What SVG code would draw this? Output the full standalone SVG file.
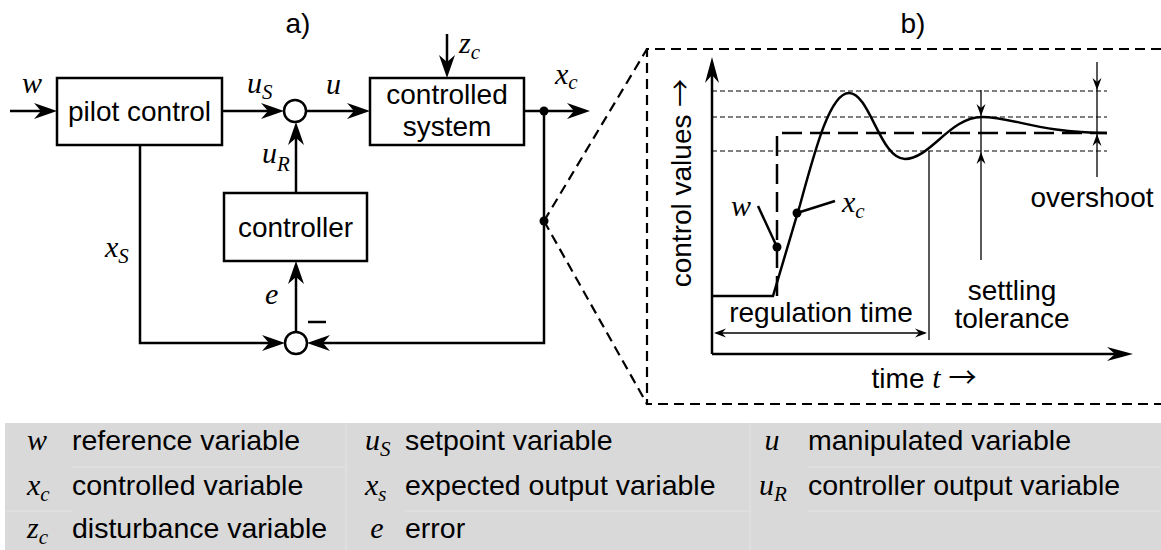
<svg xmlns="http://www.w3.org/2000/svg" width="1161" height="550" viewBox="0 0 1161 550">
<style>
.t{font-family:"Liberation Sans",Arial,sans-serif;font-size:28px;fill:#000}
.tb{font-family:"Liberation Sans",Arial,sans-serif;font-size:28.5px;fill:#000}
.m{font-family:"Liberation Serif","Times New Roman",serif;font-style:italic;font-size:30px;fill:#000}
.s{font-size:21px}
.ar{font-family:"Noto Sans CJK SC","DejaVu Sans",sans-serif;font-style:normal}
.box{fill:#fff;stroke:#000;stroke-width:2.5}
.ln{fill:none;stroke:#000;stroke-width:2.5}
.thin{fill:none;stroke:#000;stroke-width:1.3}
.dot{fill:#000}
.dsh{fill:none;stroke:#000;stroke-width:2.2;stroke-dasharray:10 6}
.tol{fill:none;stroke:#000;stroke-width:1;stroke-dasharray:5 3}
.wset{fill:none;stroke:#000;stroke-width:2.5;stroke-dasharray:20 8}
.cell{fill:none;stroke:#e3e3e3;stroke-width:1.2}
</style>
<defs>
<marker id="ah" markerUnits="userSpaceOnUse" viewBox="0 -9 24 18" refX="15" refY="0" markerWidth="24" markerHeight="18" orient="auto"><path d="M0,-8 L23,0 L0,8 L7,0 z" fill="#000"/></marker>
<marker id="ax" markerUnits="userSpaceOnUse" viewBox="0 -8 27 16" refX="18" refY="0" markerWidth="27" markerHeight="16" orient="auto"><path d="M0,-7 L26,0 L0,7 L8,0 z" fill="#000"/></marker>
<marker id="sa" markerUnits="userSpaceOnUse" viewBox="0 -5 13 10" refX="10" refY="0" markerWidth="13" markerHeight="10" orient="auto-start-reverse"><path d="M0,-4.5 L12,0 L0,4.5 L4,0 z" fill="#000"/></marker>
</defs>

<!-- a) block diagram -->
<text class="t" x="298" y="33" text-anchor="middle">a)</text>

<g id="pilot">
<rect class="box" x="57" y="78" width="165" height="67"/>
<text class="t" x="139.5" y="121" text-anchor="middle">pilot control</text>
</g>
<g id="sum1"><circle class="box" cx="295" cy="111" r="11"/></g>
<g id="system">
<rect class="box" x="370" y="78" width="154" height="67"/>
<text class="t" x="447" y="104" text-anchor="middle">controlled</text>
<text class="t" x="447" y="136" text-anchor="middle">system</text>
</g>
<g id="controller">
<rect class="box" x="224" y="193" width="143" height="68"/>
<text class="t" x="295.5" y="237" text-anchor="middle">controller</text>
</g>
<g id="sum2"><circle class="box" cx="296" cy="343" r="11"/></g>

<g id="connectors">
<path class="ln" d="M10,111 H49" marker-end="url(#ah)"/>
<path class="ln" d="M222,111 H276" marker-end="url(#ah)"/>
<path class="ln" d="M306,111 H362" marker-end="url(#ah)"/>
<path class="ln" d="M447,34 V70" marker-end="url(#ah)"/>
<path class="ln" d="M524,111 H582" marker-end="url(#ah)"/>
<path class="ln" d="M544,111 V343 H315" marker-end="url(#ah)"/>
<path class="ln" d="M140,145 V343 H277" marker-end="url(#ah)"/>
<path class="ln" d="M296,332 V269" marker-end="url(#ah)"/>
<path class="ln" d="M296,193 V130" marker-end="url(#ah)"/>
<circle class="dot" cx="544" cy="111" r="4.5"/>
<circle class="dot" cx="544" cy="221" r="4.5"/>
<path class="dsh" d="M544,221 L647,49 M544,221 L647,404"/>
</g>

<g id="labels-a">
<text class="m" x="22" y="93">w</text>
<text class="m" x="247" y="93">u<tspan class="s" dy="6">S</tspan></text>
<text class="m" x="326" y="94">u</text>
<text class="m" x="262" y="163">u<tspan class="s" dy="8">R</tspan></text>
<text class="m" x="459" y="53">z<tspan class="s" dy="6">c</tspan></text>
<text class="m" x="555" y="84">x<tspan class="s" dy="5">c</tspan></text>
<text class="m" x="105" y="257">x<tspan class="s" dy="6">S</tspan></text>
<text class="m" x="265" y="304">e</text>
<path class="ln" d="M308,322 H326" stroke-width="2"/>
</g>

<!-- b) chart -->
<text class="t" x="913" y="33" text-anchor="middle">b)</text>
<g id="chart">
<path class="dsh" stroke-width="2.5" d="M1161,49 H647 V404 H1161"/>
<path class="tol" d="M712,91 H1107 M712,117 H1107 M712,151 H1107"/>
<path class="ln" d="M712,354 V65" marker-end="url(#ax)"/>
<path class="ln" d="M712,354 H1125" marker-end="url(#ax)"/>
<path class="wset" d="M777,296 V133 H1107"/>
<path class="ln" d="M712,296 H773 L800,205 C815,150 830,93 849,93 C870,93 880,159 905,159 C930,159 950,117 982,117 C1012,117 1040,133 1107,133"/>
<path class="thin" d="M929,151 V340"/>
<path class="thin" d="M716,333 H925" marker-start="url(#sa)" marker-end="url(#sa)"/>
<path class="thin" d="M981,90 V114" marker-end="url(#sa)"/>
<path class="thin" d="M981,260 V154" marker-end="url(#sa)"/>
<path class="thin" d="M981,114 V154"/>
<path class="thin" d="M1097,62 V88" marker-end="url(#sa)"/>
<path class="thin" d="M1097,177 V136" marker-end="url(#sa)"/>
<path class="thin" d="M1097,88 V136"/>
<circle class="dot" cx="777" cy="247" r="4.5"/>
<circle class="dot" cx="797" cy="213" r="4.5"/>
<path class="ln" d="M777,247 L758,206" stroke-width="2"/>
<path class="ln" d="M797,213 L835,201" stroke-width="2"/>
<text class="m" x="731" y="216">w</text>
<text class="m" x="842" y="212">x<tspan class="s" dy="6">c</tspan></text>
<text class="t" x="691" y="183" text-anchor="middle" transform="rotate(-90 691 183)">control values <tspan class="ar">→</tspan></text>
<text class="t" x="821" y="322" text-anchor="middle">regulation time</text>
<text class="t" x="1012" y="300" text-anchor="middle">settling</text>
<text class="t" x="1012" y="328" text-anchor="middle">tolerance</text>
<text class="t" x="1092" y="207" text-anchor="middle">overshoot</text>
<text class="t" x="924" y="388" text-anchor="middle">time <tspan class="m">t</tspan> <tspan class="ar">→</tspan></text>
</g>

<!-- legend table -->
<g id="legend">
<rect x="5" y="423" width="1156" height="127" fill="#d9d9d9"/>
<path class="cell" d="M72,467 H346 M5,511 H72 M346,423 V550 M750,423 V550 M405,511 H750 M808,511 H1161 M808,467 H1161"/>
<text class="m" x="37" y="450" text-anchor="middle">w</text>
<text class="tb" x="72" y="450">reference variable</text>
<text class="m" x="365" y="450">u<tspan class="s" dy="6">S</tspan></text>
<text class="tb" x="405" y="450">setpoint variable</text>
<text class="m" x="772" y="450" text-anchor="middle">u</text>
<text class="tb" x="808" y="450">manipulated variable</text>
<text class="m" x="27" y="495">x<tspan class="s" dy="6">c</tspan></text>
<text class="tb" x="72" y="495">controlled variable</text>
<text class="m" x="365" y="495">x<tspan class="s" dy="6">s</tspan></text>
<text class="tb" x="405" y="495">expected output variable</text>
<text class="m" x="759" y="495">u<tspan class="s" dy="6">R</tspan></text>
<text class="tb" x="808" y="495">controller output variable</text>
<text class="m" x="27" y="538">z<tspan class="s" dy="6">c</tspan></text>
<text class="tb" x="72" y="538">disturbance variable</text>
<text class="m" x="377" y="538" text-anchor="middle">e</text>
<text class="tb" x="405" y="538">error</text>
</g>
</svg>
